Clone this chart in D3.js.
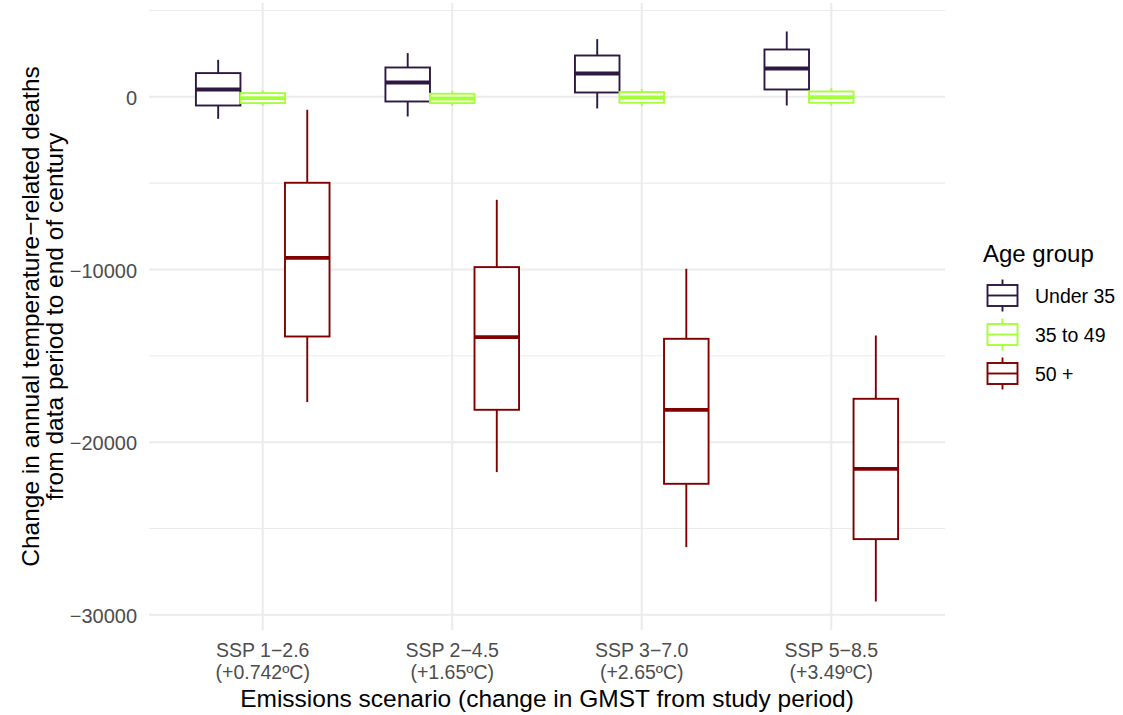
<!DOCTYPE html>
<html>
<head>
<meta charset="utf-8">
<script src="https://cdn.jsdelivr.net/npm/d3@7"></script>
<style>
  body { margin: 0; background: #fff; }
  text { font-family: "Liberation Sans", Arial, sans-serif; }
</style>
</head>
<body>
<svg id="vis"></svg>
<script>
// scenarios along the x axis (two label lines each)
const scenarios = ["SSP 1\u22122.6", "SSP 2\u22124.5", "SSP 3\u22127.0", "SSP 5\u22128.5"];
const warming = ["(+0.742\u00baC)", "(+1.65\u00baC)", "(+2.65\u00baC)", "(+3.49\u00baC)"];

const groups = ["Under 35", "35 to 49", "50 +"];

// box stats per scenario: [lower whisker, q1, median, q3, upper whisker]
const under35 = [
  [-1274, -504, 423, 1372, 2142],
  [-1140, -272, 828, 1697, 2530],
  [-677, 249, 1349, 2391, 3340],
  [-504, 423, 1639, 2739, 3781]
];
const age35to49 = [
  [-520, -365, -75, 214, 365],
  [-520, -365, -98, 174, 347],
  [-520, -347, -40, 272, 445],
  [-520, -347, -17, 307, 504]
];
const age50plus = [
  [-17681, -13882, -9324, -4980, -753],
  [-21735, -18127, -13916, -9864, -5965],
  [-26079, -22413, -18127, -14015, -9961],
  [-29229, -25616, -21544, -17490, -13824]
];

const yTicks = [0, -10000, -20000, -30000];
const yMinor = [5000, -5000, -15000, -25000];

let config = {
  'svg': {},
  'plot': {},
  'legend': {}
};

config.svg.width = 1123;
config.svg.height = 715;

config.plot.x = 149;
config.plot.y = 3;
config.plot.width = 945 - 149;
config.plot.height = 630 - 3;

config.legend.x = 983;
config.legend.y = 262;

const colors = ["#2e1843", "#a4ff3a", "#800000"];
const stats = [under35, age35to49, age50plus];

const svg = d3.select("svg#vis")
  .attr('width', config.svg.width)
  .attr('height', config.svg.height);

let scale = {};

scale.x = d3.scalePoint()
  .domain(scenarios)
  .range([0, config.plot.width])
  .padding(0.6);

// ggplot style 5% expansion
let all = stats.flat(2);
let lo = d3.min(all), hi = d3.max(all);
let pad = (hi - lo) * 0.05;

scale.y = d3.scaleLinear()
  .domain([lo - pad, hi + pad])
  .range([config.plot.height, 0]);

let plot = svg.append('g')
  .attr('id', 'plot')
  .attr('transform', translate(config.plot.x, config.plot.y));

// grid
let grid = plot.append('g').attr('id', 'grid');

grid.selectAll('line.minor')
  .data(yMinor)
  .enter()
  .append('line')
  .attr('class', 'minor')
  .attr('x1', 0)
  .attr('x2', config.plot.width)
  .attr('y1', d => scale.y(d))
  .attr('y2', d => scale.y(d))
  .style('stroke', '#ebebeb')
  .style('stroke-width', 1.1);

grid.selectAll('line.major')
  .data(yTicks)
  .enter()
  .append('line')
  .attr('class', 'major')
  .attr('x1', 0)
  .attr('x2', config.plot.width)
  .attr('y1', d => scale.y(d))
  .attr('y2', d => scale.y(d))
  .style('stroke', '#ebebeb')
  .style('stroke-width', 2);

grid.selectAll('line.vert')
  .data(scenarios)
  .enter()
  .append('line')
  .attr('class', 'vert')
  .attr('x1', d => scale.x(d))
  .attr('x2', d => scale.x(d))
  .attr('y1', 0)
  .attr('y2', config.plot.height)
  .style('stroke', '#ebebeb')
  .style('stroke-width', 2);

// boxes
let step = scale.x.step();
let boxWidth = step * 0.235;

let rows = [];
groups.forEach(function(g, gi) {
  scenarios.forEach(function(s, si) {
    let v = stats[gi][si];
    rows.push({
      group: g, gi: gi, scenario: s,
      lower: v[0], q1: v[1], median: v[2], q3: v[3], upper: v[4]
    });
  });
});

let boxes = plot.selectAll('g.box')
  .data(rows)
  .enter()
  .append('g')
  .attr('class', 'box')
  .attr('transform', d => translate(scale.x(d.scenario) + (d.gi - 1) * boxWidth, 0))
  .style('stroke', d => colors[d.gi]);

boxes.append('line')
  .attr('x1', 0).attr('x2', 0)
  .attr('y1', d => scale.y(d.upper))
  .attr('y2', d => scale.y(d.q3))
  .style('stroke-width', 1.9);

boxes.append('line')
  .attr('x1', 0).attr('x2', 0)
  .attr('y1', d => scale.y(d.q1))
  .attr('y2', d => scale.y(d.lower))
  .style('stroke-width', 1.9);

boxes.append('rect')
  .attr('x', -boxWidth / 2)
  .attr('width', boxWidth)
  .attr('y', d => scale.y(d.q3))
  .attr('height', d => scale.y(d.q1) - scale.y(d.q3))
  .style('fill', 'white')
  .style('stroke-width', 1.9);

boxes.append('line')
  .attr('x1', -boxWidth / 2).attr('x2', boxWidth / 2)
  .attr('y1', d => scale.y(d.median))
  .attr('y2', d => scale.y(d.median))
  .style('stroke-width', 3.8);

// axes
let axis = {};

axis.y = d3.axisLeft(scale.y)
  .tickValues(yTicks)
  .tickSize(0)
  .tickPadding(12)
  .tickFormat(d => d3.format("d")(d).replace("-", "\u2212"));

let gy = svg.append('g')
  .attr('id', 'y-axis')
  .attr('transform', translate(config.plot.x, config.plot.y))
  .call(axis.y);

gy.select('.domain').remove();
gy.selectAll('text')
  .attr('font-size', '20px')
  .attr('dy', '0.38em')
  .attr('fill', '#4d4d4d')
  .attr('font-family', '"Liberation Sans", Arial, sans-serif');

// two-line category labels, kept as separate texts
let gx = svg.append('g')
  .attr('id', 'x-axis')
  .attr('transform', translate(config.plot.x, config.plot.y + config.plot.height));

gx.selectAll('text.scenario')
  .data(scenarios)
  .enter()
  .append('text')
  .attr('class', 'scenario')
  .attr('x', d => scale.x(d))
  .attr('y', 27)
  .attr('text-anchor', 'middle')
  .attr('font-size', '19.5px')
  .attr('fill', '#4d4d4d')
  .text(d => d);

gx.selectAll('text.warming')
  .data(warming)
  .enter()
  .append('text')
  .attr('class', 'warming')
  .attr('x', (d, i) => scale.x(scenarios[i]))
  .attr('y', 48.5)
  .attr('text-anchor', 'middle')
  .attr('font-size', '19.5px')
  .attr('fill', '#4d4d4d')
  .text(d => d);

drawTitles();
drawLegend();

function drawTitles() {
  svg.append('text')
    .text("Emissions scenario (change in GMST from study period)")
    .attr('x', config.plot.x + config.plot.width / 2)
    .attr('y', 706.5)
    .attr('text-anchor', 'middle')
    .attr('font-size', '24.5px');

  let cy = config.plot.y + config.plot.height / 2;
  let yt = svg.append('text')
    .attr('transform', translate(39, cy) + ' rotate(-90)')
    .attr('text-anchor', 'middle')
    .attr('font-size', '24.5px');

  yt.append('tspan')
    .attr('x', 0)
    .text("Change in annual temperature\u2212related deaths");

  yt.append('tspan')
    .attr('x', 0)
    .attr('dy', 24)
    .text("from data period to end of century");
}

function drawLegend() {
  let legend = svg.append('g')
    .attr('id', 'legend')
    .attr('transform', translate(config.legend.x, config.legend.y));

  legend.append('text')
    .text("Age group")
    .attr('font-size', '24px');

  let keys = legend.selectAll('g.key')
    .data(groups)
    .enter()
    .append('g')
    .attr('class', 'key')
    .attr('transform', (d, i) => translate(19.5, 33.5 + i * 39))
    .style('stroke', (d, i) => colors[i]);

  keys.append('line')
    .attr('y1', -16).attr('y2', 16)
    .style('stroke-width', 1.9);

  keys.append('rect')
    .attr('x', -15).attr('y', -10.5)
    .attr('width', 30).attr('height', 21)
    .style('fill', 'white')
    .style('stroke-width', 1.9);

  keys.append('line')
    .attr('x1', -15).attr('x2', 15)
    .style('stroke-width', 1.9);

  keys.append('text')
    .text(d => d)
    .attr('x', 32.5)
    .attr('y', 7)
    .attr('font-size', '19.5px')
    .style('stroke', 'none')
    .attr('fill', 'black');
}

function translate(x, y) {
  return 'translate(' + x + ',' + y + ')';
}
</script>
</body>
</html>
